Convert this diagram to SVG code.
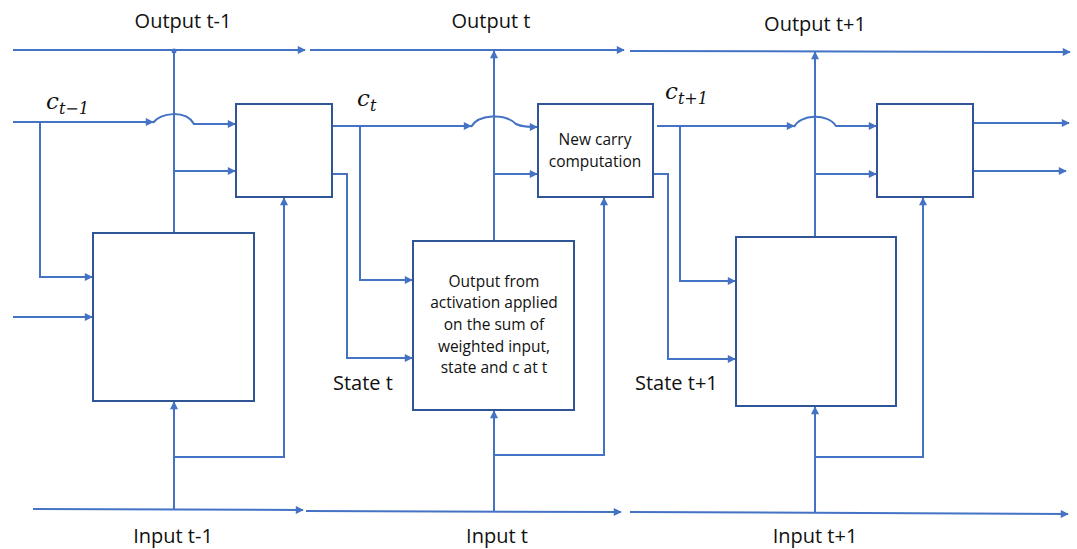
<svg xmlns="http://www.w3.org/2000/svg" width="1077" height="549" viewBox="0 0 1077 549">
<style>
.ln{fill:none;stroke:#4472C4;stroke-width:2}
.bx{fill:#fff;stroke:#2F5597;stroke-width:2}
.lbl{font-family:"Open Sans","Liberation Sans",sans-serif;font-size:20px;fill:#111}
.bt{font-family:"Open Sans","Liberation Sans",sans-serif;font-size:15.5px;fill:#111;text-anchor:middle}
.mt{font-family:"DejaVu Serif","Liberation Serif",serif;font-style:italic;fill:#111}
</style>
<defs>
<marker id="ar" viewBox="0 0 10 10" refX="9" refY="5" markerWidth="9" markerHeight="8" markerUnits="userSpaceOnUse" orient="auto"><path d="M0,0 L10,5 L0,10 z" fill="#4472C4"/></marker>
</defs>
<g id="connectors">
<line class="ln" x1="13" y1="50" x2="305" y2="50" marker-end="url(#ar)"/>
<line class="ln" x1="310" y1="50" x2="624" y2="50" marker-end="url(#ar)"/>
<line class="ln" x1="630" y1="51" x2="1070" y2="52" marker-end="url(#ar)"/>
<line class="ln" x1="33" y1="509" x2="303" y2="510" marker-end="url(#ar)"/>
<line class="ln" x1="306" y1="511" x2="621" y2="512" marker-end="url(#ar)"/>
<line class="ln" x1="630" y1="512" x2="1068" y2="514" marker-end="url(#ar)"/>
<circle cx="174" cy="51" r="2.5" fill="#4472C4"/>
<line class="ln" x1="174" y1="51" x2="174" y2="233"/>
<line class="ln" x1="174" y1="171" x2="235" y2="171" marker-end="url(#ar)"/>
<line class="ln" x1="13" y1="122" x2="153" y2="122" marker-end="url(#ar)"/>
<path class="ln" d="M153,123 C160,112 186,110 194,124 L235,124" marker-end="url(#ar)"/>
<path class="ln" d="M40,122 L40,277 L92,277" marker-end="url(#ar)"/>
<line class="ln" x1="13" y1="317" x2="92" y2="317" marker-end="url(#ar)"/>
<line class="ln" x1="174" y1="509" x2="174" y2="402" marker-end="url(#ar)"/>
<path class="ln" d="M174,457 L284,457 L284,198" marker-end="url(#ar)"/>
<line class="ln" x1="332" y1="126" x2="471" y2="126" marker-end="url(#ar)"/>
<path class="ln" d="M471,127 C478,114 505,113 516,124 C522,127 528,127 537,127" marker-end="url(#ar)"/>
<path class="ln" d="M332,174 L347,174 L347,358 L412,358" marker-end="url(#ar)"/>
<path class="ln" d="M360,126 L360,280 L412,280" marker-end="url(#ar)"/>
<line class="ln" x1="494" y1="241" x2="494" y2="51" marker-end="url(#ar)"/>
<line class="ln" x1="494" y1="174" x2="537" y2="174" marker-end="url(#ar)"/>
<line class="ln" x1="494" y1="511" x2="494" y2="411" marker-end="url(#ar)"/>
<path class="ln" d="M494,455 L604,455 L604,198" marker-end="url(#ar)"/>
<line class="ln" x1="657" y1="126" x2="794" y2="126" marker-end="url(#ar)"/>
<path class="ln" d="M794,127 C800,114 828,113 836,126 L876,126" marker-end="url(#ar)"/>
<path class="ln" d="M653,174 L668,174 L668,359 L735,359" marker-end="url(#ar)"/>
<path class="ln" d="M680,126 L680,281 L735,281" marker-end="url(#ar)"/>
<line class="ln" x1="815" y1="237" x2="815" y2="52" marker-end="url(#ar)"/>
<line class="ln" x1="815" y1="174" x2="876" y2="174" marker-end="url(#ar)"/>
<line class="ln" x1="815" y1="513" x2="815" y2="407" marker-end="url(#ar)"/>
<path class="ln" d="M815,457 L923,457 L923,198" marker-end="url(#ar)"/>
<line class="ln" x1="973" y1="123" x2="1069" y2="123" marker-end="url(#ar)"/>
<line class="ln" x1="973" y1="171" x2="1066" y2="171" marker-end="url(#ar)"/>
</g>
<g id="box1"><rect class="bx" x="93" y="233" width="161" height="168"/></g>
<g id="carry1"><rect class="bx" x="236" y="104" width="96" height="93"/></g>
<g id="box2"><rect class="bx" x="413" y="241" width="161" height="169"/>
<text class="bt" x="494" y="287">Output from</text>
<text class="bt" x="494" y="308">activation applied</text>
<text class="bt" x="494" y="330">on the sum of</text>
<text class="bt" x="494" y="352">weighted input,</text>
<text class="bt" x="494" y="373">state and c at t</text>
</g>
<g id="carry2"><rect class="bx" x="538" y="104" width="115" height="93"/>
<text class="bt" x="595" y="145">New carry</text>
<text class="bt" x="595" y="167">computation</text>
</g>
<g id="box3"><rect class="bx" x="736" y="237" width="160" height="169"/></g>
<g id="carry3"><rect class="bx" x="877" y="104" width="96" height="93"/></g>
<g id="labels">
<text class="lbl" x="183" y="28" text-anchor="middle">Output t-1</text>
<text class="lbl" x="491" y="28" text-anchor="middle">Output t</text>
<text class="lbl" x="815" y="31" text-anchor="middle">Output t+1</text>
<text class="lbl" x="173" y="543" text-anchor="middle">Input t-1</text>
<text class="lbl" x="497" y="543" text-anchor="middle">Input t</text>
<text class="lbl" x="815" y="543" text-anchor="middle">Input t+1</text>
<text class="lbl" x="333" y="390">State t</text>
<text class="lbl" x="635" y="390">State t+1</text>
<text class="mt" x="46" y="109" font-size="23">c<tspan font-size="16" dy="5">t−1</tspan></text>
<text class="mt" x="357" y="106" font-size="23">c<tspan font-size="16" dy="5">t</tspan></text>
<text class="mt" x="665" y="99" font-size="23">c<tspan font-size="16" dy="5">t+1</tspan></text>
</g>
</svg>
